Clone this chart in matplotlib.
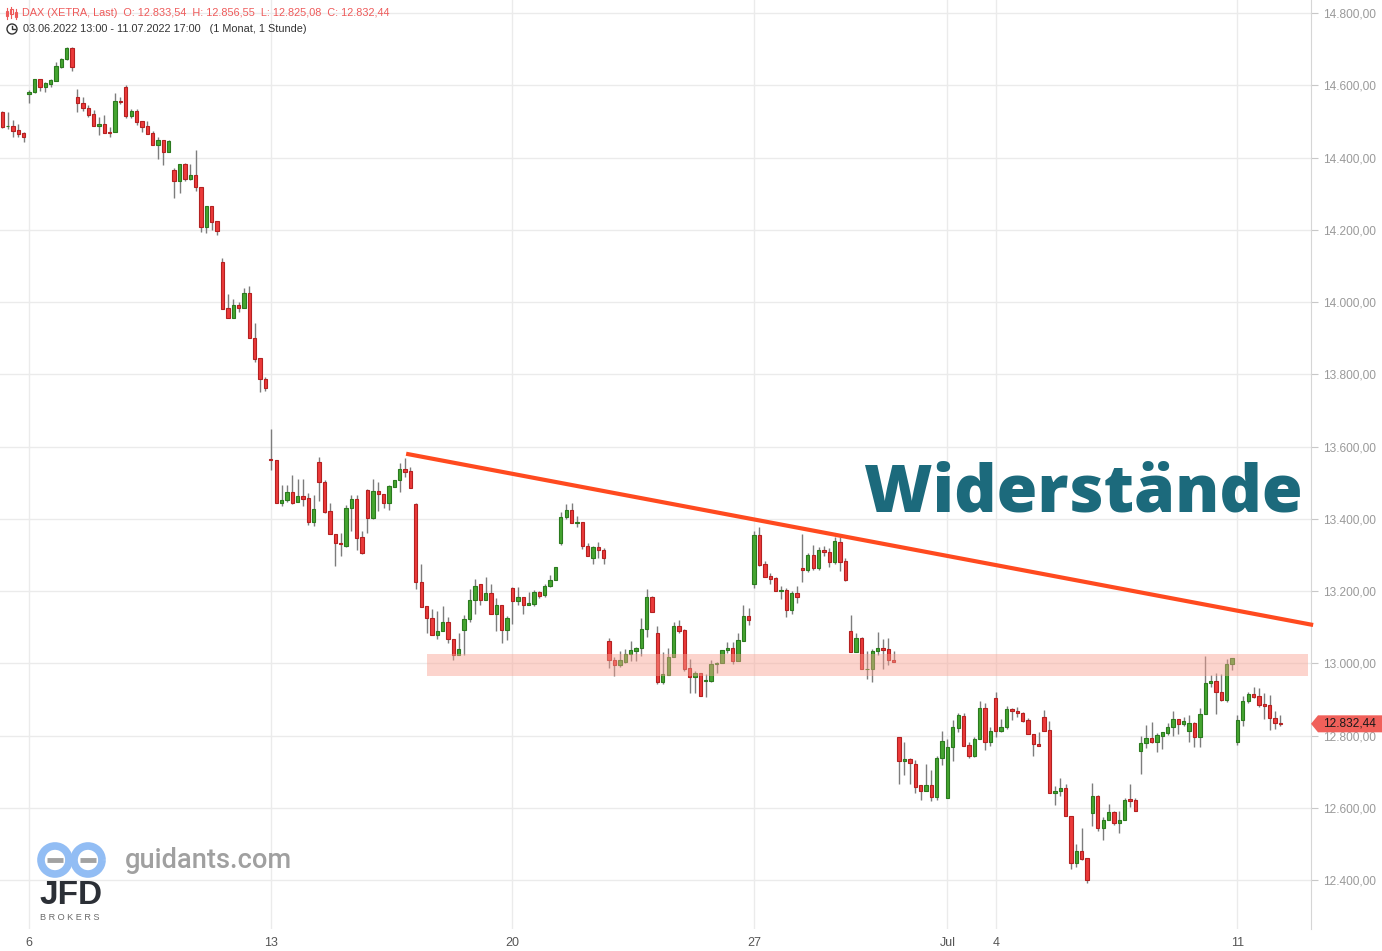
import matplotlib
matplotlib.use("Agg")
from matplotlib import pyplot as plt
from matplotlib.patches import Polygon, Circle, Arc
import numpy as np

plt.rcParams['font.family'] = ['Liberation Sans', 'DejaVu Sans']

# Handelstage und Stundenkerzen pro Tag (XETRA 9:00-17:00)
days = ["03.06", "06.06", "07.06", "08.06", "09.06", "10.06",
        "13.06", "14.06", "15.06", "16.06", "17.06",
        "20.06", "21.06", "22.06", "23.06", "24.06",
        "27.06", "28.06", "29.06", "30.06", "01.07",
        "04.07", "05.07", "06.07", "07.07", "08.07", "11.07"]
candles_per_day = [5] + [9] * 26
tick_days = {"06.06": "6", "13.06": "13", "20.06": "20", "27.06": "27",
             "01.07": "Jul", "04.07": "4", "11.07": "11"}

# DAX Stundenkerzen (je Zeile ein Tag)
opens = [
    14526, 14486, 14486, 14476, 14467,
    14575, 14580, 14616, 14594, 14604, 14613, 14651, 14672, 14702,
    14567, 14550, 14538, 14520, 14488, 14492, 14470, 14470, 14557,
    14594, 14516, 14529, 14501, 14487, 14468, 14435, 14448, 14416,
    14365, 14336, 14381, 14341, 14351, 14318, 14208, 14265, 14223,
    14110, 13983, 13957, 13991, 13984, 14024, 13900, 13844, 13786,
    13566, 13562, 13443, 13451, 13473, 13446, 13462, 13457, 13392,
    13557, 13502, 13422, 13357, 13334, 13325, 13429, 13454, 13349,
    13480, 13401, 13477, 13469, 13445, 13489, 13506, 13537, 13532,
    13441, 13224, 13158, 13125, 13077, 13089, 13114, 13067, 13022,
    13092, 13122, 13174, 13219, 13176, 13194, 13136, 13161, 13091,
    13209, 13172, 13184, 13162, 13163, 13197, 13188, 13213, 13230,
    13334, 13404, 13423, 13387, 13390, 13326, 13292, 13321, 13313,
    13061, 13008, 12994, 13004, 13025, 13035, 13041, 13094, 13183,
    13083, 12947, 12968, 13017, 13103, 13092, 12987, 12963, 12972,
    12950, 12952, 12997, 13000, 13036, 13041, 13007, 13063, 13130,
    13219, 13355, 13275, 13242, 13236, 13201, 13203, 13147, 13194,
    13263, 13257, 13300, 13263, 13313, 13307, 13281, 13336, 13282,
    13089, 13030, 13070, 12983, 12983, 13033, 13042, 13039, 13008,
    12795, 12729, 12734, 12720, 12662, 12647, 12662, 12631, 12737,
    12626, 12767, 12820, 12853, 12773, 12744, 12790, 12875, 12781,
    12903, 12813, 12825, 12873, 12869, 12862, 12842, 12805, 12776,
    12851, 12814, 12642, 12646, 12654, 12577, 12448, 12480, 12460,
    12586, 12632, 12545, 12565, 12587, 12559, 12565, 12624, 12621,
    12756, 12779, 12792, 12783, 12800, 12808, 12823, 12845, 12831,
    12813, 12834, 12797, 12859, 12945, 12950, 12920, 12899, 12998,
    12783, 12843, 12896, 12914, 12909, 12887, 12885, 12848, 12833.54,
]
highs = [
    14529, 14527, 14504, 14492, 14471,
    14587, 14618, 14617, 14610, 14616, 14664, 14675, 14707, 14707,
    14589, 14568, 14545, 14532, 14511, 14518, 14484, 14579, 14568,
    14601, 14535, 14535, 14501, 14501, 14474, 14458, 14448, 14448,
    14371, 14381, 14386, 14381, 14421, 14318, 14265, 14265, 14223,
    14121, 14021, 14008, 13999, 14038, 14044, 13941, 13844, 13793,
    13648, 13562, 13493, 13493, 13521, 13509, 13509, 13471, 13466,
    13572, 13507, 13444, 13357, 13360, 13438, 13466, 13466, 13366,
    13482, 13509, 13503, 13469, 13493, 13506, 13555, 13568, 13544,
    13445, 13274, 13158, 13150, 13144, 13159, 13129, 13067, 13083,
    13134, 13206, 13233, 13219, 13238, 13219, 13180, 13161, 13132,
    13211, 13211, 13184, 13196, 13202, 13200, 13219, 13244, 13266,
    13420, 13440, 13443, 13408, 13390, 13334, 13324, 13335, 13318,
    13070, 13017, 13034, 13040, 13062, 13046, 13126, 13206, 13187,
    13103, 13032, 13042, 13113, 13120, 13095, 13011, 12980, 12972,
    12970, 13009, 13003, 13037, 13060, 13060, 13084, 13161, 13152,
    13366, 13378, 13284, 13249, 13240, 13214, 13208, 13200, 13214,
    13357, 13304, 13327, 13321, 13325, 13318, 13349, 13350, 13292,
    13134, 13085, 13074, 13034, 13040, 13086, 13067, 13070, 13034,
    12795, 12783, 12738, 12732, 12662, 12721, 12705, 12743, 12813,
    12790, 12843, 12862, 12862, 12783, 12795, 12896, 12889, 12825,
    12921, 12846, 12882, 12876, 12880, 12865, 12849, 12805, 12811,
    12871, 12839, 12660, 12682, 12665, 12577, 12500, 12544, 12460,
    12669, 12635, 12574, 12610, 12590, 12590, 12626, 12666, 12626,
    12799, 12829, 12837, 12808, 12809, 12834, 12868, 12845, 12851,
    12857, 12838, 12876, 13020, 12967, 12972, 12970, 13012, 13015,
    12857, 12909, 12921, 12934, 12931, 12917, 12912, 12868, 12856.55,
]
lows = [
    14481, 14478, 14458, 14458, 14444,
    14550, 14578, 14585, 14582, 14594, 14613, 14647, 14670, 14640,
    14527, 14530, 14513, 14488, 14462, 14469, 14458, 14470, 14548,
    14509, 14509, 14491, 14471, 14466, 14435, 14396, 14379, 14414,
    14289, 14303, 14336, 14339, 14308, 14195, 14192, 14200, 14186,
    13982, 13957, 13957, 13973, 13984, 13900, 13835, 13752, 13755,
    13535, 13443, 13436, 13447, 13442, 13446, 13435, 13383, 13380,
    13450, 13417, 13357, 13270, 13298, 13323, 13366, 13313, 13302,
    13360, 13399, 13422, 13429, 13424, 13489, 13475, 13517, 13484,
    13205, 13157, 13085, 13077, 13066, 13089, 13055, 13010, 13022,
    13022, 13113, 13137, 13162, 13176, 13136, 13088, 13055, 13064,
    13108, 13162, 13137, 13162, 13158, 13180, 13183, 13210, 13230,
    13328, 13399, 13387, 13376, 13317, 13296, 13276, 13291, 13276,
    12986, 12966, 12990, 13002, 13007, 13007, 13020, 13074, 13143,
    12942, 12942, 12968, 13017, 13085, 12979, 12917, 12917, 12910,
    12908, 12949, 12974, 13000, 13028, 12997, 13007, 13063, 13107,
    13209, 13269, 13240, 13219, 13201, 13179, 13129, 13137, 13168,
    13224, 13252, 13258, 13258, 13297, 13267, 13274, 13256, 13228,
    13030, 13030, 12983, 12956, 12949, 13022, 12983, 12994, 13003,
    12667, 12692, 12665, 12640, 12622, 12647, 12620, 12621, 12718,
    12626, 12730, 12809, 12770, 12739, 12741, 12790, 12760, 12772,
    12797, 12810, 12818, 12843, 12852, 12838, 12805, 12744, 12772,
    12813, 12642, 12607, 12634, 12576, 12431, 12437, 12456, 12393,
    12550, 12537, 12512, 12565, 12553, 12531, 12565, 12603, 12592,
    12694, 12765, 12780, 12755, 12763, 12802, 12800, 12805, 12827,
    12783, 12769, 12769, 12859, 12934, 12859, 12895, 12892, 12982,
    12775, 12826, 12889, 12903, 12880, 12845, 12816, 12818, 12825.08,
]
closes = [
    14484, 14487, 14474, 14466, 14458,
    14581, 14616, 14594, 14605, 14614, 14653, 14672, 14702, 14651,
    14550, 14538, 14518, 14488, 14492, 14469, 14469, 14556, 14555,
    14516, 14529, 14499, 14485, 14466, 14435, 14448, 14416, 14445,
    14336, 14381, 14341, 14351, 14318, 14208, 14265, 14222, 14197,
    13982, 13957, 13991, 13984, 14024, 13900, 13841, 13786, 13761,
    13562, 13443, 13451, 13473, 13444, 13462, 13456, 13392, 13426,
    13502, 13419, 13357, 13332, 13329, 13429, 13454, 13348, 13305,
    13401, 13477, 13468, 13445, 13491, 13506, 13538, 13530, 13484,
    13226, 13157, 13124, 13077, 13089, 13114, 13066, 13022, 13039,
    13122, 13175, 13215, 13176, 13194, 13136, 13161, 13091, 13124,
    13172, 13184, 13162, 13166, 13197, 13185, 13213, 13230, 13266,
    13404, 13423, 13387, 13390, 13325, 13296, 13321, 13313, 13291,
    13008, 12994, 13008, 13025, 13037, 13041, 13094, 13183, 13143,
    12947, 12970, 13017, 13103, 13090, 12985, 12963, 12972, 12910,
    12954, 12998, 13000, 13037, 13042, 13007, 13064, 13131, 13119,
    13355, 13272, 13240, 13234, 13201, 13203, 13147, 13194, 13184,
    13257, 13300, 13263, 13313, 13308, 13281, 13339, 13281, 13231,
    13030, 13070, 12983, 12984, 13033, 13042, 13036, 13008, 13003,
    12729, 12735, 12723, 12658, 12647, 12662, 12631, 12737, 12784,
    12767, 12823, 12857, 12770, 12744, 12790, 12875, 12781, 12812,
    12813, 12825, 12873, 12869, 12862, 12841, 12805, 12776, 12772,
    12813, 12642, 12647, 12654, 12576, 12448, 12480, 12459, 12400,
    12632, 12545, 12565, 12587, 12559, 12565, 12621, 12620, 12592,
    12779, 12792, 12783, 12801, 12809, 12823, 12845, 12831, 12841,
    12834, 12797, 12859, 12945, 12950, 12920, 12899, 12998, 13015,
    12843, 12896, 12914, 12908, 12885, 12883, 12848, 12834, 12832.44,
]

# Widerstandslinie und Widerstandszone
trend_x = [75.2, 244.1]
trend_y = [13580, 13106]
zone_x = [79.0, 243.1]
zone_low, zone_high = 12965, 13026

y_ticks = list(range(12400, 14801, 200))


def fmt_de(v):
    s = "{:,.2f}".format(v)
    return s.replace(",", "#").replace(".", ",").replace("#", ".")


opens = np.array(opens, dtype=float)
highs = np.array(highs, dtype=float)
lows = np.array(lows, dtype=float)
closes = np.array(closes, dtype=float)
x = np.arange(len(opens))

fig = plt.figure(figsize=(13.82, 9.51), dpi=100)
ax = fig.add_axes([0, 22 / 951, 1311 / 1382, 929 / 951])
ax.set_xlim(-0.43, 243.7)
ax.set_ylim(12264.5, 14836)

# Gitter
ax.set_yticks(y_ticks)
starts = np.cumsum([0] + candles_per_day[:-1])
tick_pos = [starts[days.index(d)] for d in tick_days]
ax.set_xticks(tick_pos)
ax.set_xticklabels(list(tick_days.values()))
ax.grid(True, color="#ebebeb", linewidth=1, zorder=0)
ax.set_axisbelow(True)

for s in ["top", "left", "bottom"]:
    ax.spines[s].set_visible(False)
ax.spines["right"].set_color("#d6d6d6")
ax.yaxis.tick_right()
ax.set_yticklabels([fmt_de(v) for v in y_ticks])
ax.tick_params(axis="y", length=5, color="#c8c8c8", labelcolor="#9a9a9a",
               labelsize=8.6, pad=4)
ax.tick_params(axis="x", length=0, labelcolor="#555555", labelsize=9, pad=6)

# Kerzen
up = closes >= opens
body_bottom = np.minimum(opens, closes)
body_h = np.maximum(np.abs(closes - opens), 2.5)
face = np.where(up, "#45a530", "#ec3a3a")
edge = np.where(up, "#2b7a1f", "#b42121")
ax.vlines(x, lows, highs, color="#7d7d7d", linewidth=1, zorder=2)
ax.bar(x, body_h, bottom=body_bottom, width=0.62, color=face,
       edgecolor=edge, linewidth=0.8, zorder=3)

# Widerstandszone + Trendlinie
ax.fill_between(zone_x, zone_low, zone_high, color="#f9a090", alpha=0.45,
                linewidth=0, zorder=4)
ax.plot(trend_x, trend_y, color="#ff4a1f", linewidth=3, zorder=5,
        solid_capstyle="butt", clip_on=False)

ax.text(0.826, (929 - 512) / 929, "Widerstände", transform=ax.transAxes,
        ha="center", va="baseline", fontsize=47.5, fontweight=800,
        family=["Open Sans", "DejaVu Sans"], color="#1c6a7c", zorder=6)

# Overlay in Pixelkoordinaten
ov = fig.add_axes([0, 0, 1, 1], zorder=10)
ov.set_xlim(0, 1382)
ov.set_ylim(951, 0)
ov.axis("off")
ov.patch.set_alpha(0)

# Kopfzeile
hdr = "DAX (XETRA, Last)  O: {}  H: {}  L: {}  C: {}".format(
    fmt_de(opens[-1]), fmt_de(highs[-1]), fmt_de(lows[-1]), fmt_de(closes[-1]))
ov.text(22, 13, hdr, color="#ee5a5a", fontsize=7.8, va="center", ha="left")
ov.text(23, 29, "03.06.2022 13:00 - 11.07.2022 17:00   (1 Monat, 1 Stunde)",
        color="#333333", fontsize=7.8, va="center", ha="left")
for xi, y0, y1, b0, b1 in [(7, 8, 19, 11, 16), (11.5, 7, 18, 9, 14), (16, 9, 19, 12, 17)]:
    ov.plot([xi, xi], [y0, y1], color="#ee5a5a", lw=0.8)
    ov.add_patch(Polygon([(xi - 1.3, b0), (xi + 1.3, b0), (xi + 1.3, b1), (xi - 1.3, b1)],
                         closed=True, fc="white", ec="#ee5a5a", lw=0.8))
ov.add_patch(Circle((12, 29), 5, fill=False, ec="#333333", lw=1))
ov.plot([12, 12, 15], [25.5, 29, 29], color="#333333", lw=1)

# Kursmarke
last_y = 951 - ax.transData.transform((0, closes[-1]))[1]
ov.add_patch(Polygon([(1311, last_y), (1318, last_y - 8.5), (1382, last_y - 8.5),
                      (1382, last_y + 8.5), (1318, last_y + 8.5)],
                     closed=True, fc="#f0605a", ec="none"))
ov.text(1349, last_y, fmt_de(closes[-1]), color="#1a1a1a", fontsize=8.6,
        ha="center", va="center")

# Logo
for cx in [55, 88]:
    ov.add_patch(Arc((cx, 860), 28, 28, theta1=0, theta2=360, color="#92bdf4", lw=5.5))
ov.plot([47, 63], [860, 860], color="#a2a2a2", lw=3.5, solid_capstyle="butt")
ov.plot([80, 96], [860, 860], color="#a2a2a2", lw=3.5, solid_capstyle="butt")
ov.text(125, 860, "guidants.com", color="#a0a0a0", fontsize=19.6, ha="left",
        va="center", family=["Roboto", "DejaVu Sans"], fontweight="medium")
ov.text(39, 895, "JFD", color="#2b2f36", fontsize=24, fontweight="bold",
        ha="left", va="center")
ov.text(40, 918, "B R O K E R S", color="#6a6a6a", fontsize=6.6, ha="left",
        va="center")

fig.savefig("out.png", dpi=100)
